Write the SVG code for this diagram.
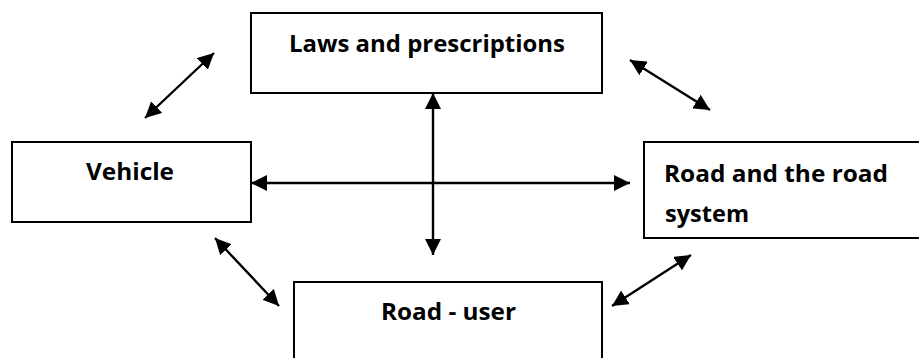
<svg xmlns="http://www.w3.org/2000/svg" width="919" height="358" viewBox="0 0 919 358">
<style>
.box{fill:#fff;stroke:#000;stroke-width:2}
.lbl{font-family:"Open Sans","Liberation Sans",sans-serif;font-weight:bold;font-size:24px;fill:#000}
.con{stroke:#000;stroke-width:2.4;fill:none;marker-start:url(#ah);marker-end:url(#ah)}
</style>
<defs>
<marker id="ah" markerUnits="userSpaceOnUse" markerWidth="17" markerHeight="16" refX="16" refY="8" orient="auto-start-reverse" viewBox="0 0 17 16">
<path d="M0,0 L16,8 L0,16 z" fill="#000"/>
</marker>
</defs>
<rect width="919" height="358" fill="#fff"/>
<g id="laws">
<rect class="box" x="251" y="13" width="351" height="80"/>
<text class="lbl" x="289" y="52" textLength="276" lengthAdjust="spacingAndGlyphs">Laws and prescriptions</text>
</g>
<g id="vehicle">
<rect class="box" x="12" y="142" width="239" height="80"/>
<text class="lbl" x="86" y="180" textLength="88" lengthAdjust="spacingAndGlyphs">Vehicle</text>
</g>
<g id="road">
<rect class="box" x="644" y="142" width="290" height="96"/>
<text class="lbl" x="664" y="182" textLength="224" lengthAdjust="spacingAndGlyphs">Road and the road</text>
<text class="lbl" x="665" y="222" textLength="84" lengthAdjust="spacingAndGlyphs">system</text>
</g>
<g id="roaduser">
<rect class="box" x="294" y="282" width="308" height="90"/>
<text class="lbl" x="381" y="320" textLength="135" lengthAdjust="spacingAndGlyphs">Road - user</text>
</g>
<g id="connectors">
<line class="con" x1="145" y1="118" x2="214" y2="53"/>
<line class="con" x1="630" y1="60" x2="710" y2="110"/>
<line class="con" x1="215" y1="238" x2="279" y2="306"/>
<line class="con" x1="612" y1="306" x2="691" y2="255"/>
<line class="con" x1="433" y1="93" x2="433" y2="255"/>
<line class="con" x1="251" y1="183" x2="630" y2="183"/>
</g>
</svg>
